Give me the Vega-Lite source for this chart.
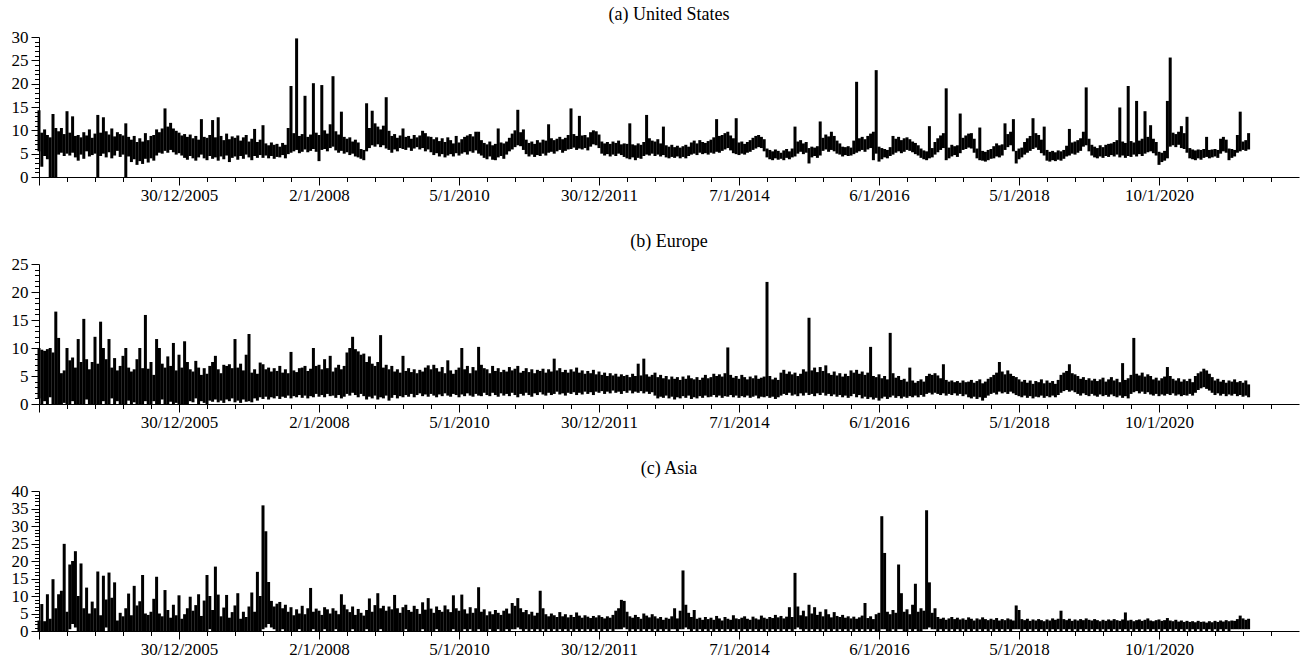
{
"$schema": "https://vega.github.io/schema/vega-lite/v6.json",
"background": "white",
"padding": {"left": 11, "top": 6, "right": 5, "bottom": 5},
"config": {
 "view": {"stroke": null},
 "font": "Liberation Serif",
 "axis": {"grid": false, "domainColor": "black", "tickColor": "black", "labelColor": "black", "labelFont": "Liberation Serif", "domainWidth": 1, "tickWidth": 1, "title": null},
 "title": {"font": "Liberation Serif", "fontSize": 18, "fontWeight": "normal", "color": "black", "offset": 4, "anchor": "middle"},
 "concat": {"spacing": 30}
},
"datasets": {"d": [
{"t":0,"al":5.5,"ah":14.3,"bl":1,"bh":10,"cl":0,"ch":3},
{"t":10,"al":2.2,"ah":9.5,"bl":0,"bh":9.7,"cl":0,"ch":7.7},
{"t":20,"al":4.5,"ah":10.2,"bl":0.5,"bh":9.5,"cl":0,"ch":2.8},
{"t":30,"al":3.8,"ah":9,"bl":0,"bh":9.8,"cl":0,"ch":10.5},
{"t":40,"al":0,"ah":8.5,"bl":1.2,"bh":10,"cl":0,"ch":3.5},
{"t":50,"al":0,"ah":13.5,"bl":0,"bh":9.2,"cl":0,"ch":14.8},
{"t":60,"al":0,"ah":10.5,"bl":0,"bh":16.5,"cl":0,"ch":6.5},
{"t":70,"al":4.8,"ah":9.8,"bl":0,"bh":11.8,"cl":0,"ch":10.5},
{"t":80,"al":5.2,"ah":10.5,"bl":0,"bh":5.5,"cl":0,"ch":11.5},
{"t":90,"al":4.5,"ah":9.2,"bl":0.2,"bh":6,"cl":0,"ch":24.9},
{"t":100,"al":5,"ah":14.1,"bl":0,"bh":10,"cl":0,"ch":5.5},
{"t":110,"al":4.6,"ah":9.5,"bl":0,"bh":7.8,"cl":0.5,"ch":19},
{"t":120,"al":5.2,"ah":13,"bl":0.5,"bh":8.3,"cl":2,"ch":20},
{"t":130,"al":4.2,"ah":8.8,"bl":0,"bh":6.5,"cl":1,"ch":22.8},
{"t":140,"al":3.5,"ah":9,"bl":0,"bh":11.6,"cl":0,"ch":10},
{"t":150,"al":4.8,"ah":8.5,"bl":0,"bh":7.5,"cl":0,"ch":19.3},
{"t":160,"al":3.9,"ah":9.6,"bl":0,"bh":15.2,"cl":0,"ch":6.5},
{"t":170,"al":5.5,"ah":8.9,"bl":0.8,"bh":8,"cl":0,"ch":12.4},
{"t":180,"al":4.4,"ah":10.2,"bl":0,"bh":6.2,"cl":0,"ch":5},
{"t":190,"al":4.7,"ah":8.4,"bl":0,"bh":7.5,"cl":0,"ch":8.4},
{"t":200,"al":5,"ah":9.3,"bl":0,"bh":12,"cl":0,"ch":6.5},
{"t":210,"al":0,"ah":13.3,"bl":0,"bh":7.2,"cl":0,"ch":17},
{"t":220,"al":4.5,"ah":9.5,"bl":0,"bh":14.7,"cl":0,"ch":4.5},
{"t":230,"al":5,"ah":12.8,"bl":0.5,"bh":10,"cl":0,"ch":15.8},
{"t":240,"al":4.2,"ah":9.8,"bl":0,"bh":8,"cl":1,"ch":9},
{"t":250,"al":5.3,"ah":9.1,"bl":0,"bh":11.6,"cl":0,"ch":16.7},
{"t":260,"al":4,"ah":10.4,"bl":1,"bh":6.5,"cl":0,"ch":9.5},
{"t":270,"al":4.6,"ah":8.7,"bl":0,"bh":8.2,"cl":0,"ch":13.9},
{"t":280,"al":5.6,"ah":9.6,"bl":0.5,"bh":6,"cl":0,"ch":3},
{"t":290,"al":4.3,"ah":9.2,"bl":0,"bh":6.8,"cl":0,"ch":5.2},
{"t":300,"al":4.8,"ah":8.9,"bl":0,"bh":8.6,"cl":0,"ch":4.2},
{"t":310,"al":0,"ah":11.5,"bl":0,"bh":10,"cl":0,"ch":6.5},
{"t":320,"al":4.4,"ah":8.6,"bl":0.6,"bh":6.5,"cl":0,"ch":10.7},
{"t":330,"al":3.2,"ah":8,"bl":0,"bh":5.8,"cl":0,"ch":4.5},
{"t":340,"al":3.8,"ah":8.8,"bl":0.3,"bh":6.2,"cl":0,"ch":12.9},
{"t":350,"al":2.6,"ah":7.5,"bl":0,"bh":8,"cl":0,"ch":7.3},
{"t":360,"al":3.4,"ah":8.3,"bl":0,"bh":10,"cl":0,"ch":8.5},
{"t":370,"al":2.8,"ah":7.6,"bl":0,"bh":6.4,"cl":0,"ch":16},
{"t":380,"al":3.9,"ah":9.4,"bl":0.5,"bh":15.9,"cl":0,"ch":5},
{"t":390,"al":3.1,"ah":7.9,"bl":0,"bh":6.3,"cl":0,"ch":4.6},
{"t":400,"al":4,"ah":8.8,"bl":0,"bh":7.5,"cl":0,"ch":5.5},
{"t":410,"al":3.5,"ah":9,"bl":0.5,"bh":5.2,"cl":0,"ch":9.2},
{"t":420,"al":4.6,"ah":10.2,"bl":0,"bh":11.6,"cl":0,"ch":15.5},
{"t":430,"al":5.2,"ah":9.6,"bl":0,"bh":10,"cl":0,"ch":5},
{"t":440,"al":5,"ah":10.4,"bl":0.8,"bh":7.2,"cl":0,"ch":4.2},
{"t":450,"al":5.6,"ah":14.7,"bl":0,"bh":6.5,"cl":0,"ch":11.7},
{"t":460,"al":5.2,"ah":10.8,"bl":0,"bh":8.5,"cl":0,"ch":6},
{"t":470,"al":5.8,"ah":11.6,"bl":0.4,"bh":6.8,"cl":0,"ch":3.8},
{"t":480,"al":5.3,"ah":10.4,"bl":0,"bh":10.9,"cl":0,"ch":7.5},
{"t":490,"al":4.8,"ah":9.9,"bl":0.2,"bh":6,"cl":0,"ch":4.5},
{"t":500,"al":5.1,"ah":9.5,"bl":0,"bh":8.8,"cl":0,"ch":10.2},
{"t":510,"al":4.6,"ah":8.9,"bl":0,"bh":6.5,"cl":0,"ch":3.5},
{"t":520,"al":4.1,"ah":9.2,"bl":0,"bh":11.2,"cl":0,"ch":4.8},
{"t":530,"al":3.7,"ah":8.6,"bl":0,"bh":7.5,"cl":0,"ch":6.5},
{"t":540,"al":4.5,"ah":9.1,"bl":0.5,"bh":6.2,"cl":0,"ch":9.8},
{"t":550,"al":4,"ah":8.3,"bl":0.3,"bh":5.8,"cl":0,"ch":5.8},
{"t":560,"al":3.5,"ah":8.8,"bl":1,"bh":7.7,"cl":0,"ch":7.4},
{"t":570,"al":4.2,"ah":8,"bl":0,"bh":6.5,"cl":0,"ch":10.5},
{"t":580,"al":4.8,"ah":12.4,"bl":0.5,"bh":5.2,"cl":0,"ch":4.3},
{"t":590,"al":4,"ah":8.6,"bl":0.2,"bh":6.4,"cl":0,"ch":8.7},
{"t":600,"al":3.6,"ah":8.4,"bl":0,"bh":5.4,"cl":0,"ch":16},
{"t":610,"al":4.5,"ah":9,"bl":0.6,"bh":6.8,"cl":0.5,"ch":10},
{"t":620,"al":3.9,"ah":12.2,"bl":0.4,"bh":7.5,"cl":0,"ch":6},
{"t":630,"al":4.2,"ah":8.5,"bl":0.8,"bh":8.6,"cl":0,"ch":18.4},
{"t":640,"al":3.5,"ah":12.8,"bl":0.3,"bh":6.2,"cl":0,"ch":10.4},
{"t":650,"al":4.4,"ah":8.8,"bl":0.6,"bh":5.5,"cl":0,"ch":4.2},
{"t":660,"al":3.8,"ah":7.9,"bl":0.2,"bh":7,"cl":0,"ch":6.7},
{"t":670,"al":4.6,"ah":9.3,"bl":0.8,"bh":6.8,"cl":0,"ch":10.3},
{"t":680,"al":3.2,"ah":8.1,"bl":0.5,"bh":7.1,"cl":0,"ch":3.8},
{"t":690,"al":4.1,"ah":8.7,"bl":1,"bh":6.4,"cl":0,"ch":5.4},
{"t":700,"al":4.4,"ah":8.4,"bl":0.3,"bh":11.6,"cl":0,"ch":7.3},
{"t":710,"al":3.7,"ah":8.9,"bl":0.6,"bh":6.5,"cl":0,"ch":10.8},
{"t":720,"al":4.5,"ah":7.8,"bl":0.2,"bh":7.2,"cl":0,"ch":3.5},
{"t":730,"al":3.9,"ah":8.5,"bl":0.8,"bh":6,"cl":0,"ch":5.5},
{"t":740,"al":4.8,"ah":9,"bl":0.4,"bh":8.8,"cl":0,"ch":4},
{"t":750,"al":4.2,"ah":7.6,"bl":0.5,"bh":12.5,"cl":0,"ch":7},
{"t":760,"al":3.6,"ah":8.2,"bl":0.3,"bh":5.6,"cl":0,"ch":11},
{"t":770,"al":4.5,"ah":10.3,"bl":1,"bh":6.2,"cl":0,"ch":5.5},
{"t":780,"al":4.1,"ah":7.5,"bl":0.6,"bh":5.4,"cl":0,"ch":16.9},
{"t":790,"al":4.7,"ah":8,"bl":1.2,"bh":7.4,"cl":0,"ch":10},
{"t":800,"al":4.1,"ah":11.1,"bl":0.9,"bh":7.1,"cl":0.5,"ch":35.9},
{"t":810,"al":4.6,"ah":7.2,"bl":1.3,"bh":6.2,"cl":1,"ch":28.5},
{"t":820,"al":4,"ah":6.8,"bl":0.8,"bh":6.5,"cl":2,"ch":14},
{"t":830,"al":4.5,"ah":7.4,"bl":1.2,"bh":5.8,"cl":1,"ch":8.6},
{"t":840,"al":3.9,"ah":6.9,"bl":1,"bh":6.4,"cl":0.5,"ch":7},
{"t":850,"al":4.3,"ah":7.1,"bl":1.4,"bh":5.9,"cl":0,"ch":7.8},
{"t":860,"al":4.2,"ah":6.5,"bl":0.9,"bh":6.8,"cl":0,"ch":8.3},
{"t":870,"al":4.7,"ah":7.3,"bl":1.3,"bh":5.6,"cl":0.5,"ch":6.5},
{"t":880,"al":4,"ah":6.9,"bl":1.1,"bh":6.2,"cl":0,"ch":7.5},
{"t":890,"al":4.9,"ah":10.5,"bl":1.5,"bh":5.5,"cl":0,"ch":5.5},
{"t":900,"al":5.2,"ah":19.5,"bl":1,"bh":9.3,"cl":0,"ch":6.8},
{"t":910,"al":5.5,"ah":9.4,"bl":1.4,"bh":6,"cl":0,"ch":4.5},
{"t":920,"al":5.8,"ah":29.7,"bl":1.2,"bh":5.7,"cl":0,"ch":6.2},
{"t":930,"al":5.1,"ah":8.8,"bl":1.6,"bh":6.4,"cl":0.5,"ch":5},
{"t":940,"al":5.4,"ah":9.2,"bl":1.1,"bh":6.5,"cl":0,"ch":7.2},
{"t":950,"al":5.9,"ah":17.4,"bl":1.5,"bh":6.8,"cl":0,"ch":4.8},
{"t":960,"al":5.3,"ah":8.6,"bl":1,"bh":5.9,"cl":0,"ch":6.5},
{"t":970,"al":5.6,"ah":9.1,"bl":1.4,"bh":6.3,"cl":0,"ch":12.3},
{"t":980,"al":6,"ah":20.1,"bl":1.2,"bh":10,"cl":0.5,"ch":5.5},
{"t":990,"al":5.4,"ah":9.5,"bl":1.8,"bh":6.8,"cl":0,"ch":6.4},
{"t":1000,"al":3.4,"ah":9,"bl":1.3,"bh":7,"cl":0,"ch":5.8},
{"t":1010,"al":5.8,"ah":19.7,"bl":1.6,"bh":6.2,"cl":0,"ch":4.6},
{"t":1020,"al":6,"ah":10,"bl":1.2,"bh":8,"cl":0.5,"ch":6.8},
{"t":1030,"al":5.5,"ah":9.3,"bl":1.8,"bh":6.4,"cl":0,"ch":6.2},
{"t":1040,"al":6.2,"ah":11.3,"bl":1.4,"bh":8.6,"cl":0,"ch":5},
{"t":1050,"al":6.5,"ah":21.6,"bl":1.5,"bh":5.8,"cl":0,"ch":6.5},
{"t":1060,"al":5.7,"ah":9.8,"bl":1.1,"bh":6.5,"cl":0.5,"ch":5.8},
{"t":1070,"al":5.2,"ah":9.1,"bl":1.6,"bh":7,"cl":0,"ch":4.8},
{"t":1080,"al":5.6,"ah":14,"bl":1,"bh":6.2,"cl":0,"ch":10.5},
{"t":1090,"al":5,"ah":8.6,"bl":1.3,"bh":6.8,"cl":0,"ch":7.5},
{"t":1100,"al":5.3,"ah":8.2,"bl":1.8,"bh":9.2,"cl":0,"ch":6.2},
{"t":1110,"al":4.7,"ah":8.5,"bl":1.5,"bh":10,"cl":0,"ch":5.4},
{"t":1120,"al":5,"ah":7.6,"bl":2,"bh":12,"cl":0.5,"ch":7},
{"t":1130,"al":4.4,"ah":8,"bl":1.6,"bh":9.8,"cl":0,"ch":4.6},
{"t":1140,"al":4.2,"ah":7.4,"bl":1.2,"bh":9.4,"cl":0,"ch":6.3},
{"t":1150,"al":3.9,"ah":6,"bl":1.8,"bh":8.8,"cl":0,"ch":5.2},
{"t":1160,"al":3.6,"ah":5.8,"bl":1.4,"bh":9,"cl":0,"ch":4.4},
{"t":1170,"al":5.5,"ah":15.8,"bl":0.8,"bh":7.5,"cl":0.5,"ch":6},
{"t":1180,"al":6.2,"ah":10.5,"bl":1.3,"bh":8.5,"cl":0,"ch":9.3},
{"t":1190,"al":6.8,"ah":14.2,"bl":1,"bh":7.2,"cl":0,"ch":5.5},
{"t":1200,"al":6.5,"ah":11.5,"bl":1.5,"bh":6.8,"cl":0,"ch":7.4},
{"t":1210,"al":7,"ah":10.8,"bl":0.8,"bh":7.5,"cl":0,"ch":10.8},
{"t":1220,"al":6.4,"ah":10.2,"bl":1.2,"bh":12.3,"cl":0.5,"ch":6.5},
{"t":1230,"al":6.8,"ah":11,"bl":1,"bh":6.5,"cl":0,"ch":7.2},
{"t":1240,"al":6.1,"ah":17.1,"bl":1.5,"bh":7,"cl":0,"ch":5.8},
{"t":1250,"al":5.8,"ah":9.9,"bl":0.6,"bh":6.2,"cl":0,"ch":7},
{"t":1260,"al":5.2,"ah":8.8,"bl":1.1,"bh":6.8,"cl":0,"ch":6.2},
{"t":1270,"al":5.9,"ah":9.2,"bl":1.6,"bh":5.8,"cl":0,"ch":10.3},
{"t":1280,"al":5.5,"ah":8.4,"bl":1,"bh":6.2,"cl":0,"ch":6.5},
{"t":1290,"al":6.2,"ah":8.9,"bl":1.4,"bh":5.6,"cl":0,"ch":5.2},
{"t":1300,"al":6,"ah":10.4,"bl":1.2,"bh":8.6,"cl":0,"ch":6.8},
{"t":1310,"al":5.8,"ah":8.6,"bl":1.6,"bh":5.9,"cl":0.5,"ch":7.5},
{"t":1320,"al":6.3,"ah":8.8,"bl":1.3,"bh":6.4,"cl":0,"ch":6},
{"t":1330,"al":5.6,"ah":8.2,"bl":1.8,"bh":5.7,"cl":0,"ch":5.5},
{"t":1340,"al":6.1,"ah":9,"bl":1.2,"bh":6.2,"cl":0,"ch":7.2},
{"t":1350,"al":6.4,"ah":8.5,"bl":1.6,"bh":5.5,"cl":0,"ch":6.3},
{"t":1360,"al":5.9,"ah":8.9,"bl":1.9,"bh":6.1,"cl":0,"ch":4.9},
{"t":1370,"al":6.2,"ah":9.9,"bl":1.4,"bh":5.8,"cl":0.5,"ch":8.2},
{"t":1380,"al":5.5,"ah":9.4,"bl":1.7,"bh":6.5,"cl":0,"ch":6.1},
{"t":1390,"al":5.9,"ah":8.7,"bl":1.3,"bh":6.9,"cl":0,"ch":9.4},
{"t":1400,"al":5.3,"ah":8.6,"bl":1.8,"bh":6.2,"cl":0,"ch":6.4},
{"t":1410,"al":4.7,"ah":8.1,"bl":1.5,"bh":7,"cl":0,"ch":5.2},
{"t":1420,"al":5.1,"ah":8.5,"bl":1.2,"bh":6.4,"cl":0.5,"ch":7},
{"t":1430,"al":4.4,"ah":7.7,"bl":1.7,"bh":5.8,"cl":0,"ch":6},
{"t":1440,"al":4.9,"ah":8.3,"bl":1.4,"bh":6.6,"cl":0,"ch":5.5},
{"t":1450,"al":4.2,"ah":7.5,"bl":1.9,"bh":5.5,"cl":0,"ch":7.3},
{"t":1460,"al":4.6,"ah":8.5,"bl":1.5,"bh":7.8,"cl":0,"ch":6.2},
{"t":1470,"al":4.9,"ah":7.9,"bl":1.3,"bh":6,"cl":0,"ch":5.4},
{"t":1480,"al":4.4,"ah":7.2,"bl":1.8,"bh":5.4,"cl":0.5,"ch":10.2},
{"t":1490,"al":5.1,"ah":8.8,"bl":1.6,"bh":6.1,"cl":0,"ch":6.5},
{"t":1500,"al":4.6,"ah":7.4,"bl":1.2,"bh":6.5,"cl":0,"ch":5.8},
{"t":1510,"al":5,"ah":8.1,"bl":1.7,"bh":10,"cl":0,"ch":10.4},
{"t":1520,"al":5.3,"ah":8.6,"bl":1.4,"bh":6.2,"cl":0.5,"ch":6.2},
{"t":1530,"al":4.8,"ah":8.9,"bl":1.9,"bh":6.8,"cl":0,"ch":5},
{"t":1540,"al":5.5,"ah":9.2,"bl":1.5,"bh":5.5,"cl":0.5,"ch":6.8},
{"t":1550,"al":5.2,"ah":8.7,"bl":1.3,"bh":6.6,"cl":0,"ch":5.2},
{"t":1560,"al":5.7,"ah":9.7,"bl":1.8,"bh":6,"cl":0,"ch":6.5},
{"t":1570,"al":5,"ah":9.7,"bl":1.5,"bh":10.2,"cl":0.5,"ch":12.5},
{"t":1580,"al":4.6,"ah":7.9,"bl":1.4,"bh":7,"cl":0,"ch":5.5},
{"t":1590,"al":4.1,"ah":7.3,"bl":2,"bh":6.4,"cl":0,"ch":6.2},
{"t":1600,"al":3.8,"ah":7,"bl":1.6,"bh":6.2,"cl":0,"ch":4.5},
{"t":1610,"al":4.4,"ah":7.6,"bl":1.4,"bh":5.5,"cl":0.5,"ch":5.6},
{"t":1620,"al":3.7,"ah":6.8,"bl":2,"bh":6.8,"cl":0,"ch":4.8},
{"t":1630,"al":3.6,"ah":7.1,"bl":1.6,"bh":5.9,"cl":0,"ch":6},
{"t":1640,"al":4.2,"ah":10.4,"bl":1.3,"bh":6.4,"cl":0.5,"ch":5.2},
{"t":1650,"al":4.5,"ah":7.4,"bl":1.9,"bh":5.7,"cl":0,"ch":4.6},
{"t":1660,"al":3.9,"ah":7.2,"bl":1.5,"bh":6.1,"cl":0,"ch":5.8},
{"t":1670,"al":4.8,"ah":7.6,"bl":1.8,"bh":5.8,"cl":0.5,"ch":6.4},
{"t":1680,"al":5.5,"ah":8.4,"bl":1.4,"bh":6.6,"cl":0,"ch":5},
{"t":1690,"al":5.9,"ah":9.3,"bl":2,"bh":6,"cl":0.5,"ch":8},
{"t":1700,"al":6.4,"ah":10,"bl":1.6,"bh":6.3,"cl":0.5,"ch":7.2},
{"t":1710,"al":6.8,"ah":14.4,"bl":1.2,"bh":6.8,"cl":1,"ch":9.4},
{"t":1720,"al":6.6,"ah":9.6,"bl":1.8,"bh":5.6,"cl":0.5,"ch":6.5},
{"t":1730,"al":5.8,"ah":10.2,"bl":1.5,"bh":5.9,"cl":0,"ch":5.4},
{"t":1740,"al":4.9,"ah":8,"bl":2,"bh":6.4,"cl":0.5,"ch":6},
{"t":1750,"al":4.4,"ah":7.3,"bl":1.6,"bh":5.7,"cl":0,"ch":4.8},
{"t":1760,"al":4.8,"ah":7.6,"bl":1.3,"bh":6.2,"cl":0.5,"ch":5.5},
{"t":1770,"al":4.3,"ah":7.1,"bl":1.9,"bh":5.5,"cl":0,"ch":4.4},
{"t":1780,"al":4.7,"ah":7.9,"bl":1.6,"bh":6.1,"cl":0.5,"ch":5.2},
{"t":1790,"al":4.5,"ah":7.4,"bl":2.1,"bh":5.9,"cl":0,"ch":11.5},
{"t":1800,"al":5,"ah":8,"bl":1.7,"bh":6.3,"cl":0.5,"ch":6.5},
{"t":1810,"al":4.6,"ah":7.8,"bl":1.5,"bh":5.6,"cl":0,"ch":4.8},
{"t":1820,"al":5.2,"ah":11.3,"bl":2,"bh":6.2,"cl":0.5,"ch":4.2},
{"t":1830,"al":5.4,"ah":8.3,"bl":1.6,"bh":5.8,"cl":0,"ch":5},
{"t":1840,"al":5,"ah":7.9,"bl":1.8,"bh":8.1,"cl":0.5,"ch":4.5},
{"t":1850,"al":5.5,"ah":8.2,"bl":2.2,"bh":6,"cl":0,"ch":4},
{"t":1860,"al":5.8,"ah":8.6,"bl":1.7,"bh":6.4,"cl":0.5,"ch":5.4},
{"t":1870,"al":5.2,"ah":8.1,"bl":1.9,"bh":5.7,"cl":0,"ch":4.2},
{"t":1880,"al":5.6,"ah":8.4,"bl":1.5,"bh":6.1,"cl":0.5,"ch":4.8},
{"t":1890,"al":5.9,"ah":9,"bl":2,"bh":5.6,"cl":0,"ch":3.9},
{"t":1900,"al":6,"ah":14.7,"bl":1.8,"bh":6.2,"cl":0.5,"ch":4.6},
{"t":1910,"al":6.3,"ah":9.2,"bl":2.1,"bh":5.8,"cl":0,"ch":4},
{"t":1920,"al":5.8,"ah":8.8,"bl":1.6,"bh":6.5,"cl":0.5,"ch":5.3},
{"t":1930,"al":6.1,"ah":13.1,"bl":2,"bh":5.6,"cl":0,"ch":4.4},
{"t":1940,"al":5.9,"ah":8.9,"bl":1.7,"bh":6,"cl":0.5,"ch":3.8},
{"t":1950,"al":6.2,"ah":9,"bl":2.2,"bh":5.4,"cl":0,"ch":4.5},
{"t":1960,"al":5.7,"ah":8.5,"bl":1.8,"bh":5.9,"cl":0.5,"ch":4.1},
{"t":1970,"al":6.5,"ah":9.6,"bl":2.1,"bh":5.5,"cl":0,"ch":3.7},
{"t":1980,"al":7,"ah":10,"bl":1.6,"bh":6.1,"cl":0.5,"ch":4.3},
{"t":1990,"al":6.8,"ah":9.8,"bl":2.2,"bh":5.3,"cl":0,"ch":3.9},
{"t":2000,"al":6.2,"ah":9.1,"bl":2,"bh":5.8,"cl":0.5,"ch":4.5},
{"t":2010,"al":5,"ah":7.6,"bl":2.3,"bh":5.2,"cl":0,"ch":4},
{"t":2020,"al":4.6,"ah":7.2,"bl":1.8,"bh":5.6,"cl":0.5,"ch":3.6},
{"t":2030,"al":4.9,"ah":7.5,"bl":2.2,"bh":5,"cl":0,"ch":4.2},
{"t":2040,"al":4.4,"ah":7.1,"bl":1.9,"bh":5.5,"cl":0.5,"ch":3.8},
{"t":2050,"al":4.8,"ah":7.6,"bl":2.4,"bh":5.1,"cl":0,"ch":4.6},
{"t":2060,"al":4.5,"ah":7.3,"bl":2,"bh":5.4,"cl":0.5,"ch":5.8},
{"t":2070,"al":5,"ah":7.8,"bl":2.2,"bh":4.9,"cl":0.5,"ch":6.5},
{"t":2080,"al":4.7,"ah":7,"bl":1.8,"bh":5.3,"cl":0.5,"ch":8.9},
{"t":2090,"al":4.3,"ah":7.2,"bl":2.3,"bh":5,"cl":1,"ch":8.6},
{"t":2100,"al":4,"ah":7.1,"bl":2,"bh":5.2,"cl":0.5,"ch":5.5},
{"t":2110,"al":3.8,"ah":11.5,"bl":2.4,"bh":4.8,"cl":0,"ch":4.2},
{"t":2120,"al":4.2,"ah":7,"bl":1.9,"bh":5.4,"cl":0.5,"ch":3.8},
{"t":2130,"al":3.6,"ah":6.8,"bl":2.2,"bh":5,"cl":0,"ch":4.6},
{"t":2140,"al":4.1,"ah":7.2,"bl":2,"bh":7.2,"cl":0.5,"ch":4},
{"t":2150,"al":3.9,"ah":6.9,"bl":2.3,"bh":5.1,"cl":0,"ch":3.5},
{"t":2160,"al":4.5,"ah":7.5,"bl":1.9,"bh":8.1,"cl":0.5,"ch":5},
{"t":2170,"al":4.8,"ah":13.3,"bl":2.2,"bh":5.3,"cl":0,"ch":4.4},
{"t":2180,"al":4.6,"ah":8.3,"bl":1.8,"bh":4.9,"cl":0.5,"ch":3.9},
{"t":2190,"al":5,"ah":7.8,"bl":2.1,"bh":5.2,"cl":0,"ch":4.8},
{"t":2200,"al":4.5,"ah":7.6,"bl":1.5,"bh":5.6,"cl":0.5,"ch":4.2},
{"t":2210,"al":4.8,"ah":8.1,"bl":1,"bh":4.8,"cl":0,"ch":3.6},
{"t":2220,"al":4.4,"ah":7.2,"bl":1.3,"bh":5.2,"cl":0.5,"ch":4},
{"t":2230,"al":4.7,"ah":10.8,"bl":1.1,"bh":4.6,"cl":0,"ch":3.2},
{"t":2240,"al":4.2,"ah":6.8,"bl":1.5,"bh":5,"cl":0.5,"ch":3.8},
{"t":2250,"al":4,"ah":6.5,"bl":1,"bh":4.4,"cl":0,"ch":3.5},
{"t":2260,"al":4.3,"ah":6.9,"bl":1.3,"bh":4.9,"cl":0.5,"ch":4.2},
{"t":2270,"al":4.1,"ah":6.4,"bl":0.8,"bh":4.5,"cl":0.5,"ch":6.5},
{"t":2280,"al":4.4,"ah":6.7,"bl":1.2,"bh":4.8,"cl":0,"ch":3.6},
{"t":2290,"al":4,"ah":6.3,"bl":1,"bh":4.3,"cl":0.5,"ch":5.8},
{"t":2300,"al":4.3,"ah":6.6,"bl":1.4,"bh":4.9,"cl":0.5,"ch":17.3},
{"t":2310,"al":4,"ah":6.9,"bl":1.1,"bh":4.5,"cl":1,"ch":7.5},
{"t":2320,"al":4.5,"ah":6.5,"bl":1.5,"bh":5.1,"cl":0.5,"ch":5.2},
{"t":2330,"al":4.8,"ah":7.4,"bl":0.9,"bh":4.6,"cl":0,"ch":4},
{"t":2340,"al":5,"ah":7.8,"bl":1.2,"bh":4.4,"cl":0.5,"ch":6},
{"t":2350,"al":4.7,"ah":7.2,"bl":1,"bh":4.8,"cl":0,"ch":3.5},
{"t":2360,"al":5.2,"ah":7.9,"bl":1.4,"bh":4.3,"cl":0.5,"ch":3.8},
{"t":2370,"al":4.9,"ah":7.5,"bl":1.1,"bh":4.7,"cl":0,"ch":3.2},
{"t":2380,"al":5.1,"ah":7.3,"bl":1.5,"bh":5.2,"cl":0.5,"ch":4},
{"t":2390,"al":4.8,"ah":7.7,"bl":1.2,"bh":4.6,"cl":0,"ch":3.4},
{"t":2400,"al":5.2,"ah":8,"bl":1.3,"bh":4.8,"cl":0.5,"ch":3.8},
{"t":2410,"al":5,"ah":8.5,"bl":1.6,"bh":5.4,"cl":0,"ch":3.2},
{"t":2420,"al":5.4,"ah":12.4,"bl":1.2,"bh":5,"cl":0.5,"ch":4.3},
{"t":2430,"al":5.2,"ah":8.8,"bl":1.5,"bh":5.3,"cl":0,"ch":3.6},
{"t":2440,"al":5.6,"ah":9,"bl":1.1,"bh":4.9,"cl":0.5,"ch":3},
{"t":2450,"al":5.9,"ah":9.4,"bl":1.4,"bh":5.5,"cl":0,"ch":4},
{"t":2460,"al":6.2,"ah":9.7,"bl":1.3,"bh":10.1,"cl":0.5,"ch":3.5},
{"t":2470,"al":5.7,"ah":8.9,"bl":1.6,"bh":5.2,"cl":0,"ch":3.2},
{"t":2480,"al":5.1,"ah":8.3,"bl":1.2,"bh":4.7,"cl":0.5,"ch":4.5},
{"t":2490,"al":4.9,"ah":12.6,"bl":1.5,"bh":5,"cl":0,"ch":3.6},
{"t":2500,"al":4.7,"ah":7.4,"bl":1.1,"bh":4.5,"cl":0.5,"ch":3.4},
{"t":2510,"al":5,"ah":7.6,"bl":1.4,"bh":5.2,"cl":0,"ch":3.8},
{"t":2520,"al":4.8,"ah":7.1,"bl":1.2,"bh":4.8,"cl":0.5,"ch":4.2},
{"t":2530,"al":5.2,"ah":7.5,"bl":1.5,"bh":4.4,"cl":0,"ch":3.5},
{"t":2540,"al":5.4,"ah":7.9,"bl":1.1,"bh":4.9,"cl":0.5,"ch":3.2},
{"t":2550,"al":5.8,"ah":8.4,"bl":1.3,"bh":4.6,"cl":0,"ch":4.1},
{"t":2560,"al":6.1,"ah":8.8,"bl":1.5,"bh":5.1,"cl":0.5,"ch":3.6},
{"t":2570,"al":6.4,"ah":9,"bl":1,"bh":4.5,"cl":0,"ch":3.3},
{"t":2580,"al":6.2,"ah":8.6,"bl":1.3,"bh":4.7,"cl":0.5,"ch":4.4},
{"t":2590,"al":5.5,"ah":8.1,"bl":1.2,"bh":4.9,"cl":0,"ch":3.8},
{"t":2600,"al":4.2,"ah":6.1,"bl":1.4,"bh":21.8,"cl":0.5,"ch":3.5},
{"t":2610,"al":3.8,"ah":5.8,"bl":1.1,"bh":5,"cl":0,"ch":4},
{"t":2620,"al":3.6,"ah":5.5,"bl":1.3,"bh":4.4,"cl":0.5,"ch":3.7},
{"t":2630,"al":4,"ah":5.9,"bl":0.9,"bh":4.7,"cl":0,"ch":4.6},
{"t":2640,"al":3.7,"ah":5.6,"bl":1.2,"bh":4.3,"cl":0.5,"ch":3.9},
{"t":2650,"al":3.9,"ah":5.2,"bl":1.5,"bh":5.6,"cl":0,"ch":4.3},
{"t":2660,"al":3.6,"ah":5.7,"bl":1.8,"bh":6.1,"cl":0.5,"ch":3.6},
{"t":2670,"al":4.1,"ah":6,"bl":1.6,"bh":5.4,"cl":0,"ch":4.1},
{"t":2680,"al":3.8,"ah":5.5,"bl":2,"bh":5.8,"cl":0.5,"ch":6.8},
{"t":2690,"al":4.2,"ah":6.1,"bl":1.5,"bh":5.3,"cl":0,"ch":4},
{"t":2700,"al":4.4,"ah":10.8,"bl":1.7,"bh":5.6,"cl":0.5,"ch":16.6},
{"t":2710,"al":5,"ah":7.6,"bl":1.4,"bh":5,"cl":1,"ch":7},
{"t":2720,"al":5.4,"ah":7.9,"bl":1.9,"bh":5.4,"cl":0.5,"ch":4.5},
{"t":2730,"al":4.9,"ah":7.2,"bl":1.5,"bh":6.2,"cl":0,"ch":5.8},
{"t":2740,"al":5.2,"ah":7.5,"bl":2,"bh":5.8,"cl":0.5,"ch":4.2},
{"t":2750,"al":2.9,"ah":6.2,"bl":1.6,"bh":15.4,"cl":0,"ch":7.5},
{"t":2760,"al":4.2,"ah":6.5,"bl":1.8,"bh":6,"cl":0.5,"ch":5},
{"t":2770,"al":4.5,"ah":6.3,"bl":1.4,"bh":6.5,"cl":0,"ch":6.8},
{"t":2780,"al":4.1,"ah":6.6,"bl":1.9,"bh":5.7,"cl":0.5,"ch":4.6},
{"t":2790,"al":4.6,"ah":11.9,"bl":1.6,"bh":6.6,"cl":0,"ch":5.5},
{"t":2800,"al":5.6,"ah":8.4,"bl":2,"bh":5.9,"cl":0.5,"ch":4.2},
{"t":2810,"al":5.9,"ah":9.1,"bl":1.5,"bh":6.9,"cl":0,"ch":6.2},
{"t":2820,"al":5.4,"ah":8.7,"bl":1.8,"bh":5.5,"cl":0.5,"ch":4.8},
{"t":2830,"al":5.8,"ah":9.7,"bl":1.4,"bh":5.2,"cl":0,"ch":3.9},
{"t":2840,"al":5.5,"ah":8.8,"bl":1.7,"bh":5.8,"cl":0.5,"ch":5.4},
{"t":2850,"al":5,"ah":7.8,"bl":1.3,"bh":5.1,"cl":0,"ch":4.3},
{"t":2860,"al":4.8,"ah":7.2,"bl":1.6,"bh":5.5,"cl":0.5,"ch":4},
{"t":2870,"al":4.4,"ah":6.5,"bl":1.2,"bh":4.9,"cl":0,"ch":4.6},
{"t":2880,"al":4.7,"ah":6.4,"bl":1.5,"bh":5.4,"cl":0.5,"ch":3.8},
{"t":2890,"al":4.5,"ah":6.6,"bl":1.1,"bh":5,"cl":0,"ch":4.2},
{"t":2900,"al":4.6,"ah":6.3,"bl":1.4,"bh":6,"cl":0.5,"ch":3.6},
{"t":2910,"al":4.9,"ah":7.8,"bl":1.8,"bh":5.6,"cl":0,"ch":4.1},
{"t":2920,"al":5.2,"ah":20.4,"bl":1.2,"bh":6.1,"cl":0.5,"ch":3.5},
{"t":2930,"al":5.5,"ah":8.3,"bl":1.6,"bh":5.4,"cl":0,"ch":3.9},
{"t":2940,"al":5.8,"ah":8.6,"bl":1,"bh":5.8,"cl":0.5,"ch":4.4},
{"t":2950,"al":5.4,"ah":8.1,"bl":1.3,"bh":5.2,"cl":0,"ch":8},
{"t":2960,"al":5.9,"ah":8.8,"bl":0.9,"bh":5.6,"cl":0.5,"ch":3.7},
{"t":2970,"al":6.2,"ah":9.3,"bl":1.2,"bh":10.2,"cl":0,"ch":4.2},
{"t":2980,"al":3.6,"ah":9.7,"bl":0.8,"bh":5,"cl":0.5,"ch":3.4},
{"t":2990,"al":5,"ah":22.9,"bl":1.1,"bh":4.8,"cl":0,"ch":4.8},
{"t":3000,"al":3.3,"ah":6.5,"bl":0.6,"bh":5.3,"cl":0,"ch":5.2},
{"t":3010,"al":3.8,"ah":6.2,"bl":1,"bh":4.6,"cl":0.5,"ch":32.8},
{"t":3020,"al":4.2,"ah":6,"bl":1.3,"bh":5,"cl":0.5,"ch":22.3},
{"t":3030,"al":4,"ah":5.8,"bl":0.9,"bh":4.4,"cl":0,"ch":5.5},
{"t":3040,"al":4.5,"ah":6.4,"bl":1.2,"bh":12.7,"cl":0,"ch":4.8},
{"t":3050,"al":4.8,"ah":8.8,"bl":1.5,"bh":5.5,"cl":0.5,"ch":6},
{"t":3060,"al":5.2,"ah":8.2,"bl":1.1,"bh":4.7,"cl":0,"ch":5.2},
{"t":3070,"al":5.5,"ah":8.6,"bl":1.4,"bh":5,"cl":0.5,"ch":19},
{"t":3080,"al":5.1,"ah":7.9,"bl":1,"bh":4.3,"cl":0.5,"ch":10.8},
{"t":3090,"al":5.4,"ah":8.3,"bl":1.3,"bh":4.5,"cl":0,"ch":5.5},
{"t":3100,"al":5.8,"ah":8.5,"bl":1.1,"bh":4,"cl":0,"ch":6.2},
{"t":3110,"al":5.6,"ah":8.1,"bl":1.4,"bh":6.5,"cl":0.5,"ch":4.8},
{"t":3120,"al":5.3,"ah":7.6,"bl":1.2,"bh":4.2,"cl":0,"ch":7.5},
{"t":3130,"al":4.9,"ah":7.3,"bl":1.5,"bh":3.8,"cl":0.5,"ch":13.5},
{"t":3140,"al":4.6,"ah":6.8,"bl":1.2,"bh":4.1,"cl":0,"ch":5.5},
{"t":3150,"al":4.1,"ah":6.1,"bl":1.6,"bh":4.4,"cl":0,"ch":6.5},
{"t":3160,"al":3.8,"ah":5.7,"bl":1.3,"bh":4,"cl":0.5,"ch":5.8},
{"t":3170,"al":3.6,"ah":5.5,"bl":1.8,"bh":5,"cl":0.5,"ch":34.5},
{"t":3180,"al":4,"ah":10.9,"bl":2,"bh":5.4,"cl":1,"ch":13.9},
{"t":3190,"al":4.2,"ah":6.2,"bl":1.7,"bh":5.2,"cl":0.5,"ch":5.2},
{"t":3200,"al":4.8,"ah":7.5,"bl":2,"bh":5.5,"cl":0.5,"ch":6.5},
{"t":3210,"al":5.3,"ah":8.3,"bl":1.8,"bh":5.1,"cl":0,"ch":4},
{"t":3220,"al":5.8,"ah":8.9,"bl":1.6,"bh":4.6,"cl":0.5,"ch":3.5},
{"t":3230,"al":6.2,"ah":9.4,"bl":1.9,"bh":7.1,"cl":0,"ch":3.8},
{"t":3240,"al":3.6,"ah":19,"bl":1.5,"bh":4.3,"cl":0.5,"ch":3.2},
{"t":3250,"al":4,"ah":6.3,"bl":1.8,"bh":4,"cl":0,"ch":3.6},
{"t":3260,"al":4.4,"ah":6.9,"bl":1.6,"bh":4.2,"cl":0.5,"ch":4},
{"t":3270,"al":4.7,"ah":6.6,"bl":1.9,"bh":3.9,"cl":0,"ch":3.4},
{"t":3280,"al":4.3,"ah":6.8,"bl":1.5,"bh":4.1,"cl":0.5,"ch":3.8},
{"t":3290,"al":5.1,"ah":13.6,"bl":1.8,"bh":3.8,"cl":0,"ch":3.3},
{"t":3300,"al":5.8,"ah":8.4,"bl":1.4,"bh":4.2,"cl":0.5,"ch":3.6},
{"t":3310,"al":6,"ah":8.9,"bl":1.7,"bh":3.9,"cl":0,"ch":3.2},
{"t":3320,"al":6.3,"ah":9.3,"bl":1.2,"bh":4,"cl":0.5,"ch":3.9},
{"t":3330,"al":6.1,"ah":9.4,"bl":1,"bh":4.3,"cl":0,"ch":3.5},
{"t":3340,"al":5.2,"ah":8.2,"bl":1.3,"bh":3.8,"cl":0.5,"ch":3},
{"t":3350,"al":4,"ah":6.1,"bl":0.9,"bh":4.1,"cl":0,"ch":3.6},
{"t":3360,"al":3.6,"ah":10.6,"bl":1.2,"bh":4.4,"cl":0.5,"ch":3.3},
{"t":3370,"al":3.5,"ah":5.6,"bl":0.6,"bh":3.7,"cl":0,"ch":3.9},
{"t":3380,"al":3.3,"ah":5.4,"bl":1.1,"bh":4,"cl":0.5,"ch":3.4},
{"t":3390,"al":3.6,"ah":5.8,"bl":1.5,"bh":4.5,"cl":0,"ch":3.1},
{"t":3400,"al":3.9,"ah":6,"bl":1.8,"bh":4.8,"cl":0.5,"ch":3.5},
{"t":3410,"al":4,"ah":6.6,"bl":2,"bh":5.2,"cl":0,"ch":3.2},
{"t":3420,"al":4.4,"ah":7.2,"bl":1.7,"bh":5.6,"cl":0.5,"ch":3.7},
{"t":3430,"al":4.2,"ah":6.8,"bl":2.2,"bh":7.5,"cl":0,"ch":3},
{"t":3440,"al":4.6,"ah":7,"bl":1.9,"bh":5.8,"cl":0.5,"ch":3.4},
{"t":3450,"al":5.8,"ah":11.5,"bl":2.1,"bh":5.3,"cl":0,"ch":3.1},
{"t":3460,"al":6.4,"ah":9.2,"bl":1.8,"bh":6,"cl":0.5,"ch":3.6},
{"t":3470,"al":6.8,"ah":9.7,"bl":2.2,"bh":5.4,"cl":0,"ch":3.3},
{"t":3480,"al":5.5,"ah":12.4,"bl":1.9,"bh":5,"cl":0.5,"ch":3},
{"t":3490,"al":2.9,"ah":5.6,"bl":1.6,"bh":4.8,"cl":0.5,"ch":7.3},
{"t":3500,"al":3.8,"ah":6.1,"bl":1.4,"bh":4.4,"cl":0.5,"ch":6},
{"t":3510,"al":4.2,"ah":6.3,"bl":1.2,"bh":4,"cl":0,"ch":3.4},
{"t":3520,"al":4.8,"ah":7.5,"bl":1.5,"bh":4.3,"cl":0.5,"ch":3.1},
{"t":3530,"al":5.2,"ah":8.3,"bl":1.1,"bh":3.8,"cl":0,"ch":3.5},
{"t":3540,"al":5.6,"ah":8.8,"bl":1.4,"bh":4.2,"cl":0.5,"ch":2.9},
{"t":3550,"al":6,"ah":12.6,"bl":1,"bh":3.6,"cl":0,"ch":3.3},
{"t":3560,"al":6.3,"ah":9.4,"bl":1.3,"bh":4.1,"cl":0.5,"ch":3},
{"t":3570,"al":5.8,"ah":9,"bl":1.2,"bh":3.9,"cl":0,"ch":3.4},
{"t":3580,"al":5.1,"ah":8,"bl":1.5,"bh":4.4,"cl":0.5,"ch":3.1},
{"t":3590,"al":4.6,"ah":10.8,"bl":1.1,"bh":3.7,"cl":0,"ch":2.8},
{"t":3600,"al":3.5,"ah":5.8,"bl":1.4,"bh":4.2,"cl":0.5,"ch":3.3},
{"t":3610,"al":3.3,"ah":5.4,"bl":1.2,"bh":3.8,"cl":0,"ch":3},
{"t":3620,"al":3.6,"ah":5.6,"bl":1.5,"bh":4.1,"cl":0.5,"ch":3.6},
{"t":3630,"al":3.4,"ah":5.3,"bl":1.2,"bh":3.6,"cl":0,"ch":3.2},
{"t":3640,"al":3.7,"ah":5.7,"bl":1.6,"bh":4.3,"cl":0.5,"ch":3.5},
{"t":3650,"al":3.5,"ah":5.5,"bl":2,"bh":5.2,"cl":0,"ch":5.8},
{"t":3660,"al":3.9,"ah":5.8,"bl":2.3,"bh":5.6,"cl":0.5,"ch":3.4},
{"t":3670,"al":4.4,"ah":6.7,"bl":2.5,"bh":5.9,"cl":0,"ch":3.1},
{"t":3680,"al":4.6,"ah":10.3,"bl":2.2,"bh":7.1,"cl":0.5,"ch":3.5},
{"t":3690,"al":5,"ah":7.4,"bl":2.4,"bh":5.5,"cl":0,"ch":2.9},
{"t":3700,"al":4.8,"ah":7.6,"bl":2.1,"bh":5.3,"cl":0.5,"ch":3.3},
{"t":3710,"al":5.2,"ah":7.9,"bl":1.8,"bh":5,"cl":0,"ch":3},
{"t":3720,"al":5.6,"ah":8.3,"bl":1.5,"bh":4.5,"cl":0.5,"ch":3.4},
{"t":3730,"al":6.5,"ah":9.7,"bl":1.9,"bh":4.8,"cl":0,"ch":3.1},
{"t":3740,"al":6.8,"ah":19.2,"bl":1.6,"bh":4.3,"cl":0.5,"ch":3.6},
{"t":3750,"al":5.5,"ah":8.2,"bl":1.4,"bh":4.6,"cl":0,"ch":3.2},
{"t":3760,"al":4.6,"ah":6.9,"bl":1.8,"bh":4.2,"cl":0.5,"ch":3},
{"t":3770,"al":4.2,"ah":6.5,"bl":1.5,"bh":4.5,"cl":0,"ch":3.4},
{"t":3780,"al":4,"ah":6.2,"bl":1.3,"bh":4.1,"cl":0.5,"ch":3.1},
{"t":3790,"al":4.4,"ah":6.8,"bl":1.7,"bh":4.4,"cl":0,"ch":2.8},
{"t":3800,"al":4.1,"ah":6.4,"bl":1.4,"bh":4.7,"cl":0.5,"ch":3.2},
{"t":3810,"al":4.5,"ah":6.9,"bl":1.6,"bh":4,"cl":0,"ch":2.9},
{"t":3820,"al":4.3,"ah":7.1,"bl":1.3,"bh":4.4,"cl":0.5,"ch":3.3},
{"t":3830,"al":4.7,"ah":7.2,"bl":1.7,"bh":4.8,"cl":0,"ch":3},
{"t":3840,"al":4.4,"ah":7.5,"bl":1.4,"bh":4.2,"cl":0.5,"ch":3.4},
{"t":3850,"al":4.8,"ah":7.9,"bl":1.2,"bh":4.5,"cl":0,"ch":3.1},
{"t":3860,"al":4.2,"ah":14.9,"bl":1.5,"bh":3.9,"cl":0.5,"ch":2.9},
{"t":3870,"al":4.6,"ah":7.6,"bl":1.1,"bh":7.3,"cl":0,"ch":3.3},
{"t":3880,"al":4.1,"ah":7.3,"bl":1.4,"bh":4.3,"cl":0.5,"ch":5.3},
{"t":3890,"al":4.5,"ah":19.5,"bl":1,"bh":4.6,"cl":0,"ch":3},
{"t":3900,"al":4.3,"ah":7.7,"bl":1.8,"bh":5.2,"cl":0.5,"ch":3.2},
{"t":3910,"al":4.8,"ah":7.4,"bl":2.1,"bh":11.8,"cl":0,"ch":2.8},
{"t":3920,"al":4.4,"ah":16.3,"bl":2.3,"bh":5.4,"cl":0.5,"ch":3.1},
{"t":3930,"al":4.9,"ah":7.8,"bl":1.9,"bh":5.1,"cl":0,"ch":3.3},
{"t":3940,"al":4.5,"ah":8.2,"bl":2.2,"bh":5.6,"cl":0.5,"ch":2.9},
{"t":3950,"al":5,"ah":14.1,"bl":1.8,"bh":4.9,"cl":0,"ch":3.2},
{"t":3960,"al":5.3,"ah":8.6,"bl":2.1,"bh":5.3,"cl":0.5,"ch":3.6},
{"t":3970,"al":5.5,"ah":11.1,"bl":1.7,"bh":5,"cl":0,"ch":3},
{"t":3980,"al":5.1,"ah":8.2,"bl":1.5,"bh":4.4,"cl":0.5,"ch":2.8},
{"t":3990,"al":4.6,"ah":7.5,"bl":1.8,"bh":4.7,"cl":0,"ch":3.1},
{"t":4000,"al":2.6,"ah":5.4,"bl":1.4,"bh":4.2,"cl":0.5,"ch":3.3},
{"t":4010,"al":3.2,"ah":5.2,"bl":1.7,"bh":4.6,"cl":0,"ch":2.9},
{"t":4020,"al":3.5,"ah":5.6,"bl":1.5,"bh":4.9,"cl":0.5,"ch":3.1},
{"t":4030,"al":4,"ah":16.3,"bl":1.8,"bh":6.6,"cl":0,"ch":3.7},
{"t":4040,"al":6.5,"ah":25.6,"bl":1.6,"bh":5,"cl":0.5,"ch":3},
{"t":4050,"al":6.8,"ah":9.5,"bl":1.9,"bh":4.5,"cl":0,"ch":2.8},
{"t":4060,"al":6.4,"ah":9.2,"bl":1.5,"bh":4.2,"cl":0.5,"ch":3.2},
{"t":4070,"al":6.9,"ah":9.7,"bl":1.7,"bh":4.6,"cl":0,"ch":2.7},
{"t":4080,"al":6.2,"ah":10.9,"bl":1.4,"bh":4,"cl":0.5,"ch":3},
{"t":4090,"al":6,"ah":9.4,"bl":1.6,"bh":4.4,"cl":0,"ch":2.6},
{"t":4100,"al":5.2,"ah":12.9,"bl":1.5,"bh":4.1,"cl":0.5,"ch":2.9},
{"t":4110,"al":4,"ah":6.2,"bl":1.8,"bh":4.5,"cl":0,"ch":2.6},
{"t":4120,"al":3.8,"ah":5.9,"bl":1.5,"bh":3.9,"cl":0.5,"ch":2.8},
{"t":4130,"al":3.6,"ah":5.7,"bl":2,"bh":5,"cl":0,"ch":2.5},
{"t":4140,"al":4,"ah":5.9,"bl":2.5,"bh":5.5,"cl":0.5,"ch":2.9},
{"t":4150,"al":3.7,"ah":5.8,"bl":2.8,"bh":5.8,"cl":0,"ch":2.6},
{"t":4160,"al":4.1,"ah":6,"bl":3,"bh":6.3,"cl":0.5,"ch":2.7},
{"t":4170,"al":4.3,"ah":8.6,"bl":2.7,"bh":6,"cl":0,"ch":2.4},
{"t":4180,"al":4,"ah":5.8,"bl":2.4,"bh":5.4,"cl":0.5,"ch":2.8},
{"t":4190,"al":4.2,"ah":5.9,"bl":2,"bh":4.8,"cl":0,"ch":2.5},
{"t":4200,"al":4.4,"ah":6,"bl":1.6,"bh":4.2,"cl":0.5,"ch":2.9},
{"t":4210,"al":4.1,"ah":5.8,"bl":1.9,"bh":4.5,"cl":0,"ch":2.6},
{"t":4220,"al":5,"ah":8.2,"bl":1.5,"bh":4,"cl":0.5,"ch":3},
{"t":4230,"al":5.5,"ah":8.6,"bl":1.8,"bh":4.3,"cl":0,"ch":2.7},
{"t":4240,"al":5.2,"ah":8,"bl":1.4,"bh":3.8,"cl":0.5,"ch":3.1},
{"t":4250,"al":3.6,"ah":6.1,"bl":1.7,"bh":4.2,"cl":0,"ch":2.8},
{"t":4260,"al":4.1,"ah":6,"bl":1.5,"bh":4,"cl":0.5,"ch":3},
{"t":4270,"al":4.4,"ah":5.8,"bl":1.8,"bh":4.4,"cl":0.5,"ch":2.9},
{"t":4280,"al":5.2,"ah":9,"bl":1.4,"bh":3.9,"cl":0.5,"ch":3.4},
{"t":4290,"al":5.5,"ah":14,"bl":1.6,"bh":4.1,"cl":0.5,"ch":4.4},
{"t":4300,"al":5.8,"ah":7.6,"bl":1.3,"bh":3.8,"cl":0.5,"ch":3.6},
{"t":4310,"al":5.6,"ah":7.9,"bl":1.5,"bh":4.2,"cl":0.5,"ch":3.2},
{"t":4320,"al":5.9,"ah":9.4,"bl":1.2,"bh":3.5,"cl":0.5,"ch":3.5}
]},
"vconcat": [
{
 "title": "(a) United States",
 "width": 1260, "height": 140,
 "data": {"name": "d"},
 "mark": {"type": "rule", "strokeWidth": 3, "strokeCap": "butt", "color": "black"},
 "encoding": {
  "x": {"field": "t", "type": "quantitative", "scale": {"domain": [0, 4500], "nice": false, "zero": false},
   "axis": {"values": [0,100,200,300,400,500,600,700,800,900,1000,1100,1200,1300,1400,1500,1600,1700,1800,1900,2000,2100,2200,2300,2400,2500,2600,2700,2800,2900,3000,3100,3200,3300,3400,3500,3600,3700,3800,3900,4000,4100,4200,4300,4400],
    "labelExpr": "datum.value == 500 ? '30/12/2005' : datum.value == 1000 ? '2/1/2008' : datum.value == 1500 ? '5/1/2010' : datum.value == 2000 ? '30/12/2011' : datum.value == 2500 ? '7/1/2014' : datum.value == 3000 ? '6/1/2016' : datum.value == 3500 ? '5/1/2018' : datum.value == 4000 ? '10/1/2020' : ''",
    "tickSize": {"condition": {"test": "datum.value % 500 === 0", "value": 8}, "value": 4.5},
    "labelPadding": 2, "labelFontSize": 17, "labelOverlap": false, "labelFlush": false}},
  "y": {"field": "al", "type": "quantitative", "scale": {"domain": [0, 30], "nice": false},
   "axis": {"values": [0,1,2,3,4,5,6,7,8,9,10,11,12,13,14,15,16,17,18,19,20,21,22,23,24,25,26,27,28,29,30],
    "labelExpr": "datum.value % 5 === 0 ? datum.label : ''",
    "tickSize": {"condition": {"test": "datum.value % 5 === 0", "value": 8}, "value": 4.5},
    "labelPadding": 3, "labelFontSize": 17, "labelOverlap": false, "labelFlush": false}},
  "y2": {"field": "ah"}
 }
},
{
 "title": "(b) Europe",
 "width": 1260, "height": 140,
 "data": {"name": "d"},
 "mark": {"type": "rule", "strokeWidth": 3, "strokeCap": "butt", "color": "black"},
 "encoding": {
  "x": {"field": "t", "type": "quantitative", "scale": {"domain": [0, 4500], "nice": false, "zero": false},
   "axis": {"values": [0,100,200,300,400,500,600,700,800,900,1000,1100,1200,1300,1400,1500,1600,1700,1800,1900,2000,2100,2200,2300,2400,2500,2600,2700,2800,2900,3000,3100,3200,3300,3400,3500,3600,3700,3800,3900,4000,4100,4200,4300,4400],
    "labelExpr": "datum.value == 500 ? '30/12/2005' : datum.value == 1000 ? '2/1/2008' : datum.value == 1500 ? '5/1/2010' : datum.value == 2000 ? '30/12/2011' : datum.value == 2500 ? '7/1/2014' : datum.value == 3000 ? '6/1/2016' : datum.value == 3500 ? '5/1/2018' : datum.value == 4000 ? '10/1/2020' : ''",
    "tickSize": {"condition": {"test": "datum.value % 500 === 0", "value": 8}, "value": 4.5},
    "labelPadding": 2, "labelFontSize": 17, "labelOverlap": false, "labelFlush": false}},
  "y": {"field": "bl", "type": "quantitative", "scale": {"domain": [0, 25], "nice": false},
   "axis": {"values": [0,1,2,3,4,5,6,7,8,9,10,11,12,13,14,15,16,17,18,19,20,21,22,23,24,25],
    "labelExpr": "datum.value % 5 === 0 ? datum.label : ''",
    "tickSize": {"condition": {"test": "datum.value % 5 === 0", "value": 8}, "value": 4.5},
    "labelPadding": 3, "labelFontSize": 17, "labelOverlap": false, "labelFlush": false}},
  "y2": {"field": "bh"}
 }
},
{
 "title": "(c) Asia",
 "width": 1260, "height": 140,
 "data": {"name": "d"},
 "mark": {"type": "rule", "strokeWidth": 3, "strokeCap": "butt", "color": "black"},
 "encoding": {
  "x": {"field": "t", "type": "quantitative", "scale": {"domain": [0, 4500], "nice": false, "zero": false},
   "axis": {"values": [0,100,200,300,400,500,600,700,800,900,1000,1100,1200,1300,1400,1500,1600,1700,1800,1900,2000,2100,2200,2300,2400,2500,2600,2700,2800,2900,3000,3100,3200,3300,3400,3500,3600,3700,3800,3900,4000,4100,4200,4300,4400],
    "labelExpr": "datum.value == 500 ? '30/12/2005' : datum.value == 1000 ? '2/1/2008' : datum.value == 1500 ? '5/1/2010' : datum.value == 2000 ? '30/12/2011' : datum.value == 2500 ? '7/1/2014' : datum.value == 3000 ? '6/1/2016' : datum.value == 3500 ? '5/1/2018' : datum.value == 4000 ? '10/1/2020' : ''",
    "tickSize": {"condition": {"test": "datum.value % 500 === 0", "value": 8}, "value": 4.5},
    "labelPadding": 2, "labelFontSize": 17, "labelOverlap": false, "labelFlush": false}},
  "y": {"field": "cl", "type": "quantitative", "scale": {"domain": [0, 40], "nice": false},
   "axis": {"values": [0,1,2,3,4,5,6,7,8,9,10,11,12,13,14,15,16,17,18,19,20,21,22,23,24,25,26,27,28,29,30,31,32,33,34,35,36,37,38,39,40],
    "labelExpr": "datum.value % 5 === 0 ? datum.label : ''",
    "tickSize": {"condition": {"test": "datum.value % 5 === 0", "value": 8}, "value": 4.5},
    "labelPadding": 3, "labelFontSize": 17, "labelOverlap": false, "labelFlush": false}},
  "y2": {"field": "ch"}
 }
}
]
}
